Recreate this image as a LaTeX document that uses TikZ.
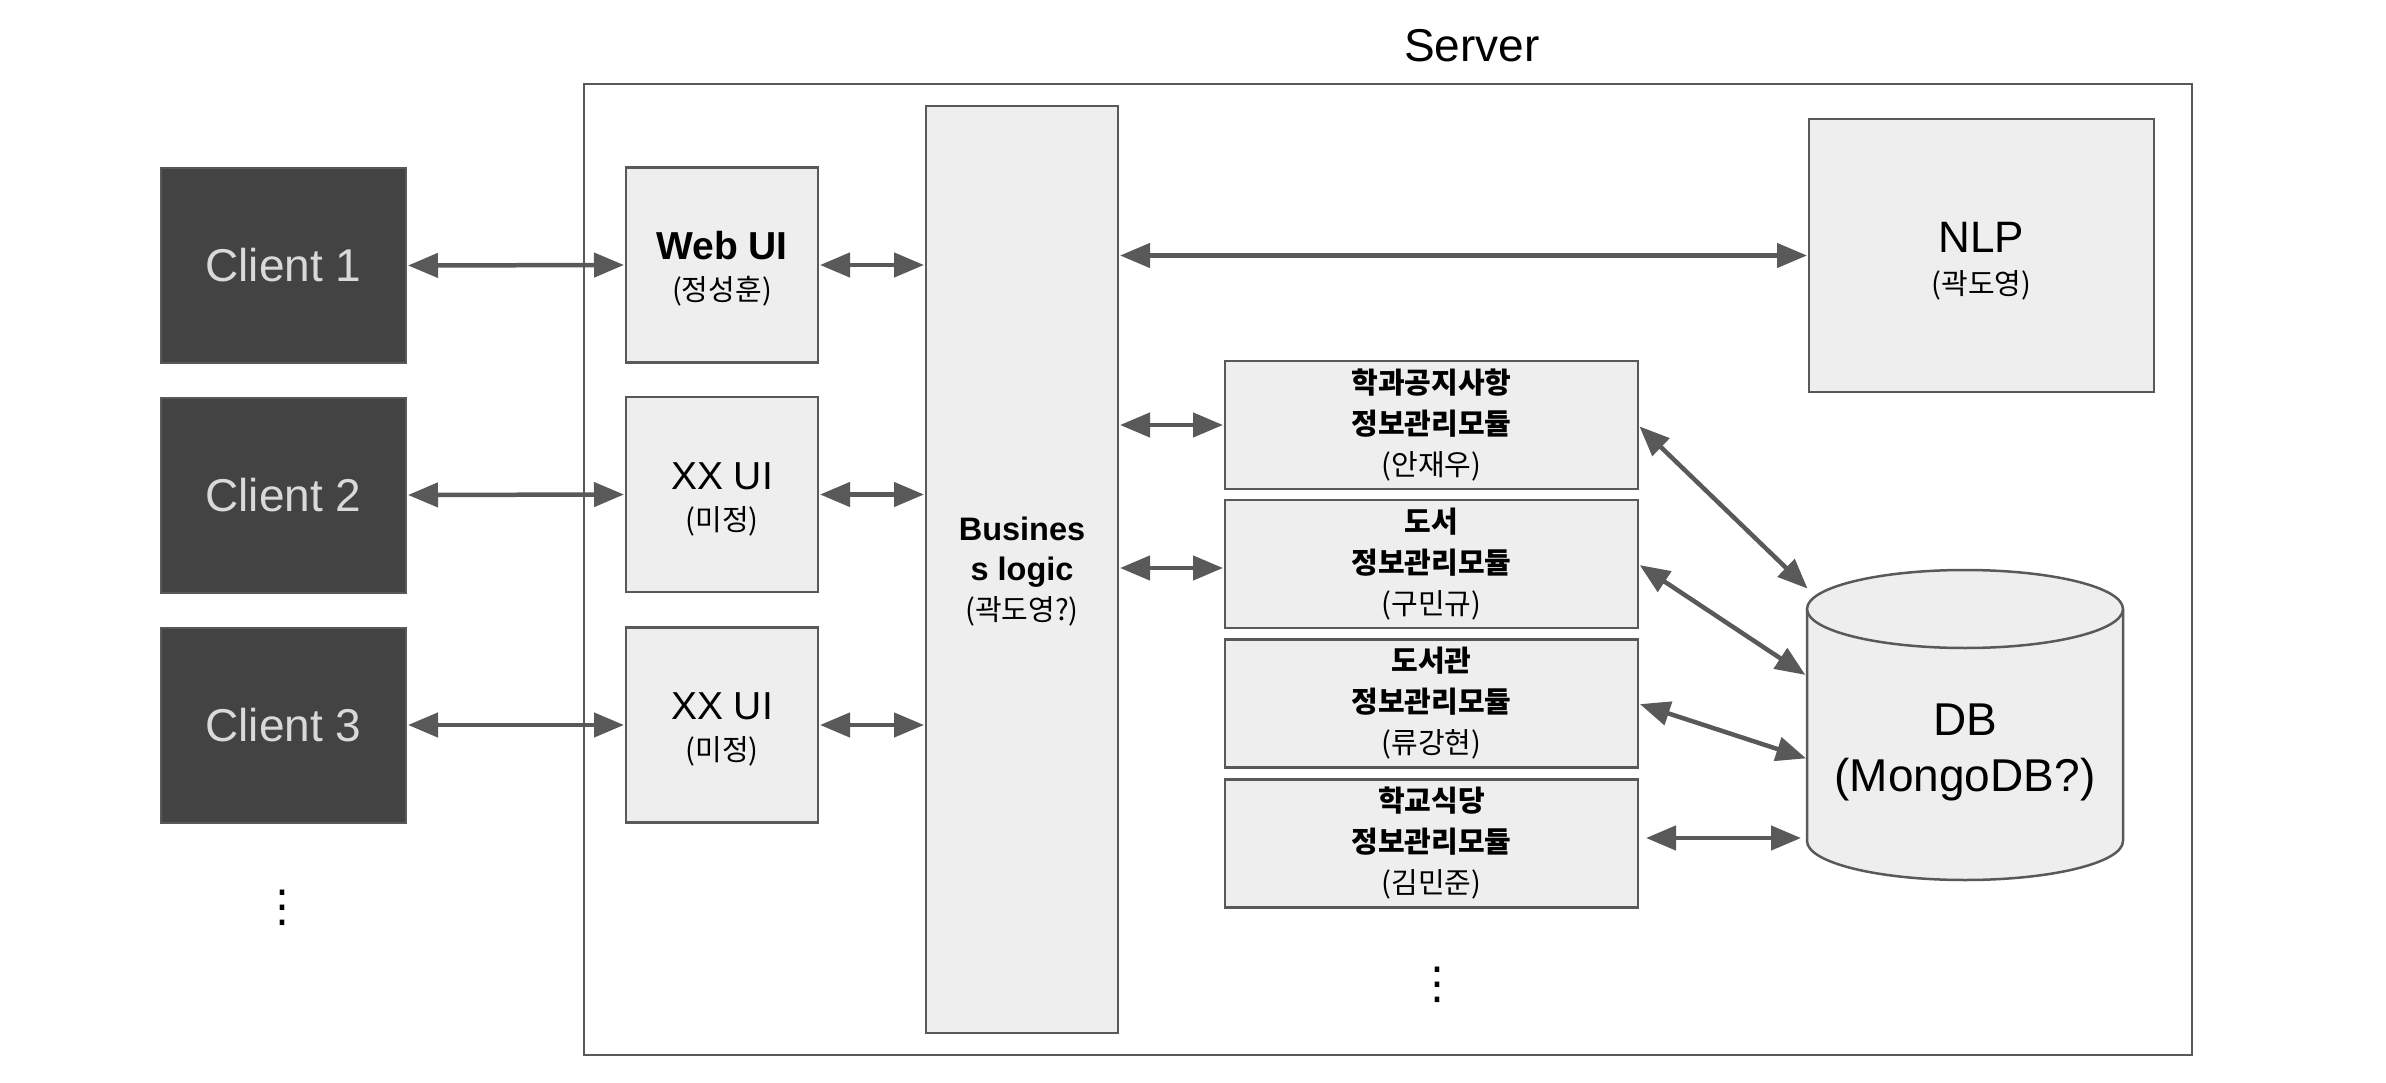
\documentclass[tikz,border=0pt]{standalone}
\usepackage{fontspec}
\setmainfont{Liberation Sans}
\newfontfamily\kr{Noto Sans CJK KR}
\newfontfamily\dvs{DejaVu Sans}
\usetikzlibrary{arrows.meta}
\definecolor{cfill}{HTML}{434343}
\definecolor{ctext}{HTML}{D9D9D9}
\definecolor{bord}{HTML}{595959}
\definecolor{lfill}{HTML}{EEEEEE}
\definecolor{acol}{HTML}{595959}
\tikzset{
  client/.style={draw=bord, fill=cfill, line width=2pt, minimum width=245pt, minimum height=195pt,
    inner sep=0pt, outer sep=0pt, text=ctext, font=\fontsize{46}{55}\selectfont},
  lbox/.style={draw=bord, fill=lfill, line width=2.5pt, inner sep=0pt, outer sep=0pt, align=center},
  uibox/.style={lbox, minimum width=192pt, minimum height=195pt, font=\fontsize{29}{41}\selectfont},
  modbox/.style={lbox, minimum width=413pt, minimum height=128pt, font=\fontsize{29}{41}\selectfont},
  arr/.style={draw=acol, line width=4.5pt, shorten <=2pt, shorten >=2pt,
    {Triangle[length=30pt,width=24pt]}-{Triangle[length=30pt,width=24pt]}},
  dots/.style={inner sep=0pt, font=\dvs\fontsize{44}{44}\selectfont},
}
\begin{document}
\begin{tikzpicture}[x=1pt,y=1pt]
\useasboundingbox (0,0) rectangle (2386,-1083);
% server frame
\node[font=\fontsize{46}{55}\selectfont, inner sep=0pt] (title) at (1472,-46) {Server};
\draw[bord, line width=2pt] (584,-84) rectangle (2192,-1055);
% clients
\node[client] (c1) at (283.5,-265.5) {Client 1};
\node[client] (c2) at (283.5,-495) {Client 2};
\node[client] (c3) at (283.5,-725) {Client 3};
\node[dots] (d1) at (282,-908) {⋮};
% UI boxes
\node[uibox] (u1) at (722,-265) {{\fontsize{39}{41}\selectfont\rule{0pt}{36pt}\bfseries Web UI}\\{\kr (정성훈)}};
\node[uibox] (u2) at (722,-494.5) {{\fontsize{39}{41}\selectfont\rule{0pt}{36pt}XX UI}\\{\kr (미정)}};
\node[uibox] (u3) at (722,-725) {{\fontsize{39}{41}\selectfont\rule{0pt}{36pt}XX UI}\\{\kr (미정)}};
% business logic
\node[lbox, minimum width=192pt, minimum height=927pt, font=\fontsize{29}{40}\selectfont] (bl) at (1022,-569.5)
  {{\fontsize{32.5}{40}\selectfont\rule{0pt}{27pt}\bfseries Busines}\\{\fontsize{32.5}{40}\selectfont\bfseries s logic}\\{\kr (곽도영?)}};
% NLP
\node[lbox, minimum width=345pt, minimum height=273pt, font=\fontsize{29}{42}\selectfont] (nlp) at (1981.5,-255.5)
  {{\fontsize{44}{42}\selectfont\rule{0pt}{42pt}NLP}\\{\kr (곽도영)}};
% modules
\node[modbox] (m1) at (1431.5,-425) {{\kr\bfseries 학과공지사항}\\{\kr\bfseries 정보관리모듈}\\{\kr (안재우)}};
\node[modbox] (m2) at (1431.5,-564) {{\kr\bfseries 도서}\\{\kr\bfseries 정보관리모듈}\\{\kr (구민규)}};
\node[modbox] (m3) at (1431.5,-703.5) {{\kr\bfseries 도서관}\\{\kr\bfseries 정보관리모듈}\\{\kr (류강현)}};
\node[modbox] (m4) at (1431.5,-843.5) {{\kr\bfseries 학교식당}\\{\kr\bfseries 정보관리모듈}\\{\kr (김민준)}};
\node[dots] (d2) at (1437,-985) {⋮};
% DB cylinder
\fill[lfill] (1807,-609) -- (1807,-841) arc[start angle=180, end angle=360, x radius=158, y radius=39]
  -- (2123,-609) arc[start angle=0, end angle=180, x radius=158, y radius=39] -- cycle;
\draw[bord, line width=2.5pt] (1807,-609) -- (1807,-841) arc[start angle=180, end angle=360, x radius=158, y radius=39]
  -- (2123,-609);
\draw[bord, line width=2.5pt, fill=lfill] (1965,-609) ellipse[x radius=158, y radius=39];
\node[inner sep=0pt, align=center, font=\fontsize{46}{56}\selectfont] (db) at (1965,-752) {DB\\(MongoDB?)};
\coordinate (db1) at (1809,-590);
\coordinate (db2) at (1807,-676);
\coordinate (db3) at (1808,-759);
\coordinate (db4) at (1803,-838);
% connectors
\draw[arr] (c1.east) -- (u1.west);
\draw[arr] (c2.east) -- (u2.west);
\draw[arr] (c3.east) -- (u3.west);
\draw[arr] (u1.east) -- (bl.west |- u1.east);
\draw[arr] (u2.east) -- (bl.west |- u2.east);
\draw[arr] (u3.east) -- (bl.west |- u3.east);
\draw[arr] (bl.east |- nlp.west) -- (nlp.west);
\draw[arr] (bl.east |- m1.west) -- (m1.west);
\draw[arr] (bl.east |- 0,-568) -- (m2.west |- 0,-568);
\draw[arr] (m1.east) -- (db1);
\draw[arr] (m2.east) -- (db2);
\draw[arr] (m3.east) -- (db3);
\draw[arr] ([xshift=6pt,yshift=5.5pt]m4.east) -- (db4);
\end{tikzpicture}
\end{document}
